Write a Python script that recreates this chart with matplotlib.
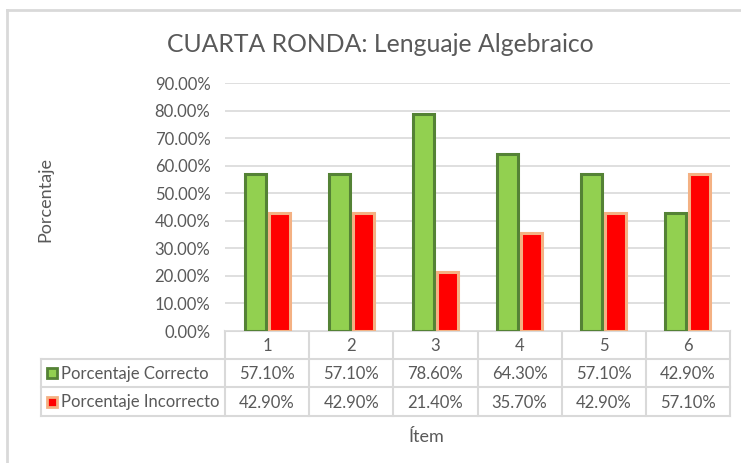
import matplotlib.pyplot as plt
import numpy as np

# data
items = ["1", "2", "3", "4", "5", "6"]
correcto = [57.10, 57.10, 78.60, 64.30, 57.10, 42.90]
incorrecto = [42.90, 42.90, 21.40, 35.70, 42.90, 57.10]
series_names = ["Porcentaje Correcto", "Porcentaje Incorrecto"]
y_ticks = [0, 10, 20, 30, 40, 50, 60, 70, 80, 90]

W, H = 741, 463
TXT = "#595959"
GRID = "#D9D9D9"
FS = 12
plt.rcParams['font.family'] = ['Lato', 'DejaVu Sans']

fig = plt.figure(figsize=(W / 100, H / 100), dpi=100)


def fx(px):
    return px / W


def fy(py):
    return 1 - py / H


# plot area in pixel coords
left, right, top, bottom = 225, 730, 83, 331
ax = fig.add_axes([fx(left), fy(bottom), fx(right - left), (bottom - top) / H])

x = np.arange(len(items))
bw = 0.25
ax.bar(x - 0.143, correcto, bw, color="#92D050", edgecolor="#548235", linewidth=2.2, zorder=3)
ax.bar(x + 0.143, incorrecto, bw, color="#FF0000", edgecolor="#F4B183", linewidth=2.2, zorder=3)

ax.set_xlim(-0.5, len(items) - 0.5)
ax.set_ylim(0, 90)
ax.set_yticks(y_ticks)
ax.set_yticklabels([f"{v:.2f}%" for v in y_ticks], color=TXT, fontsize=FS)
ax.tick_params(axis='y', length=0, pad=10.5)
ax.set_xticks([])
ax.grid(axis='y', color=GRID, linewidth=1.2, zorder=0)
for s in ax.spines.values():
    s.set_visible(False)

# data table below the plot, drawn in pixel coordinates
tab = fig.add_axes([0, 0, 1, 1], zorder=-1)
tab.set_xlim(0, W)
tab.set_ylim(H, 0)
tab.axis('off')

col_edges = np.linspace(left, right, len(items) + 1)
rows = [331, 359, 387, 416]
lk = dict(color=GRID, linewidth=1.5)

# horizontal lines
tab.plot([left, right], [rows[0], rows[0]], **lk)
for r in rows[1:]:
    tab.plot([41, right], [r, r], **lk)
# vertical lines
for c in col_edges:
    tab.plot([c, c], [rows[0], rows[-1]], **lk)
tab.plot([41, 41], [rows[1], rows[-1]], **lk)

centers = (col_edges[:-1] + col_edges[1:]) / 2
for c, lab in zip(centers, items):
    tab.text(c, (rows[0] + rows[1]) / 2 + 1, lab, ha='center', va='center', color=TXT, fontsize=FS)
for c, v in zip(centers, correcto):
    tab.text(c, (rows[1] + rows[2]) / 2 + 1, f"{v:.2f}%", ha='center', va='center', color=TXT, fontsize=FS)
for c, v in zip(centers, incorrecto):
    tab.text(c, (rows[2] + rows[3]) / 2 + 1, f"{v:.2f}%", ha='center', va='center', color=TXT, fontsize=FS)

# legend keys
keys = [("#92D050", "#548235"), ("#FF0000", "#F4B183")]
for i, (name, (fc, ec)) in enumerate(zip(series_names, keys)):
    yc = (rows[i + 1] + rows[i + 2]) / 2
    tab.add_patch(plt.Rectangle((47, yc - 5), 10, 10, facecolor=fc, edgecolor=ec, linewidth=2))
    tab.text(61, yc + 1, name, ha='left', va='center', color=TXT, fontsize=FS)

# title and axis labels
tab.text(380, 45, "CUARTA RONDA: Lenguaje Algebraico", ha='center', va='center', color=TXT, fontsize=17.8)
tab.text(45, 200, "Porcentaje", ha='center', va='center', rotation=90, color=TXT, fontsize=13)
tab.text(427, 437, "Ítem", ha='center', va='center', color=TXT, fontsize=13)

# chart area border (only top and left visible)
tab.plot([7, W], [10, 10], color=GRID, linewidth=2)
tab.plot([7, 7], [10, H], color=GRID, linewidth=2)

fig.savefig("out.png", dpi=100)
